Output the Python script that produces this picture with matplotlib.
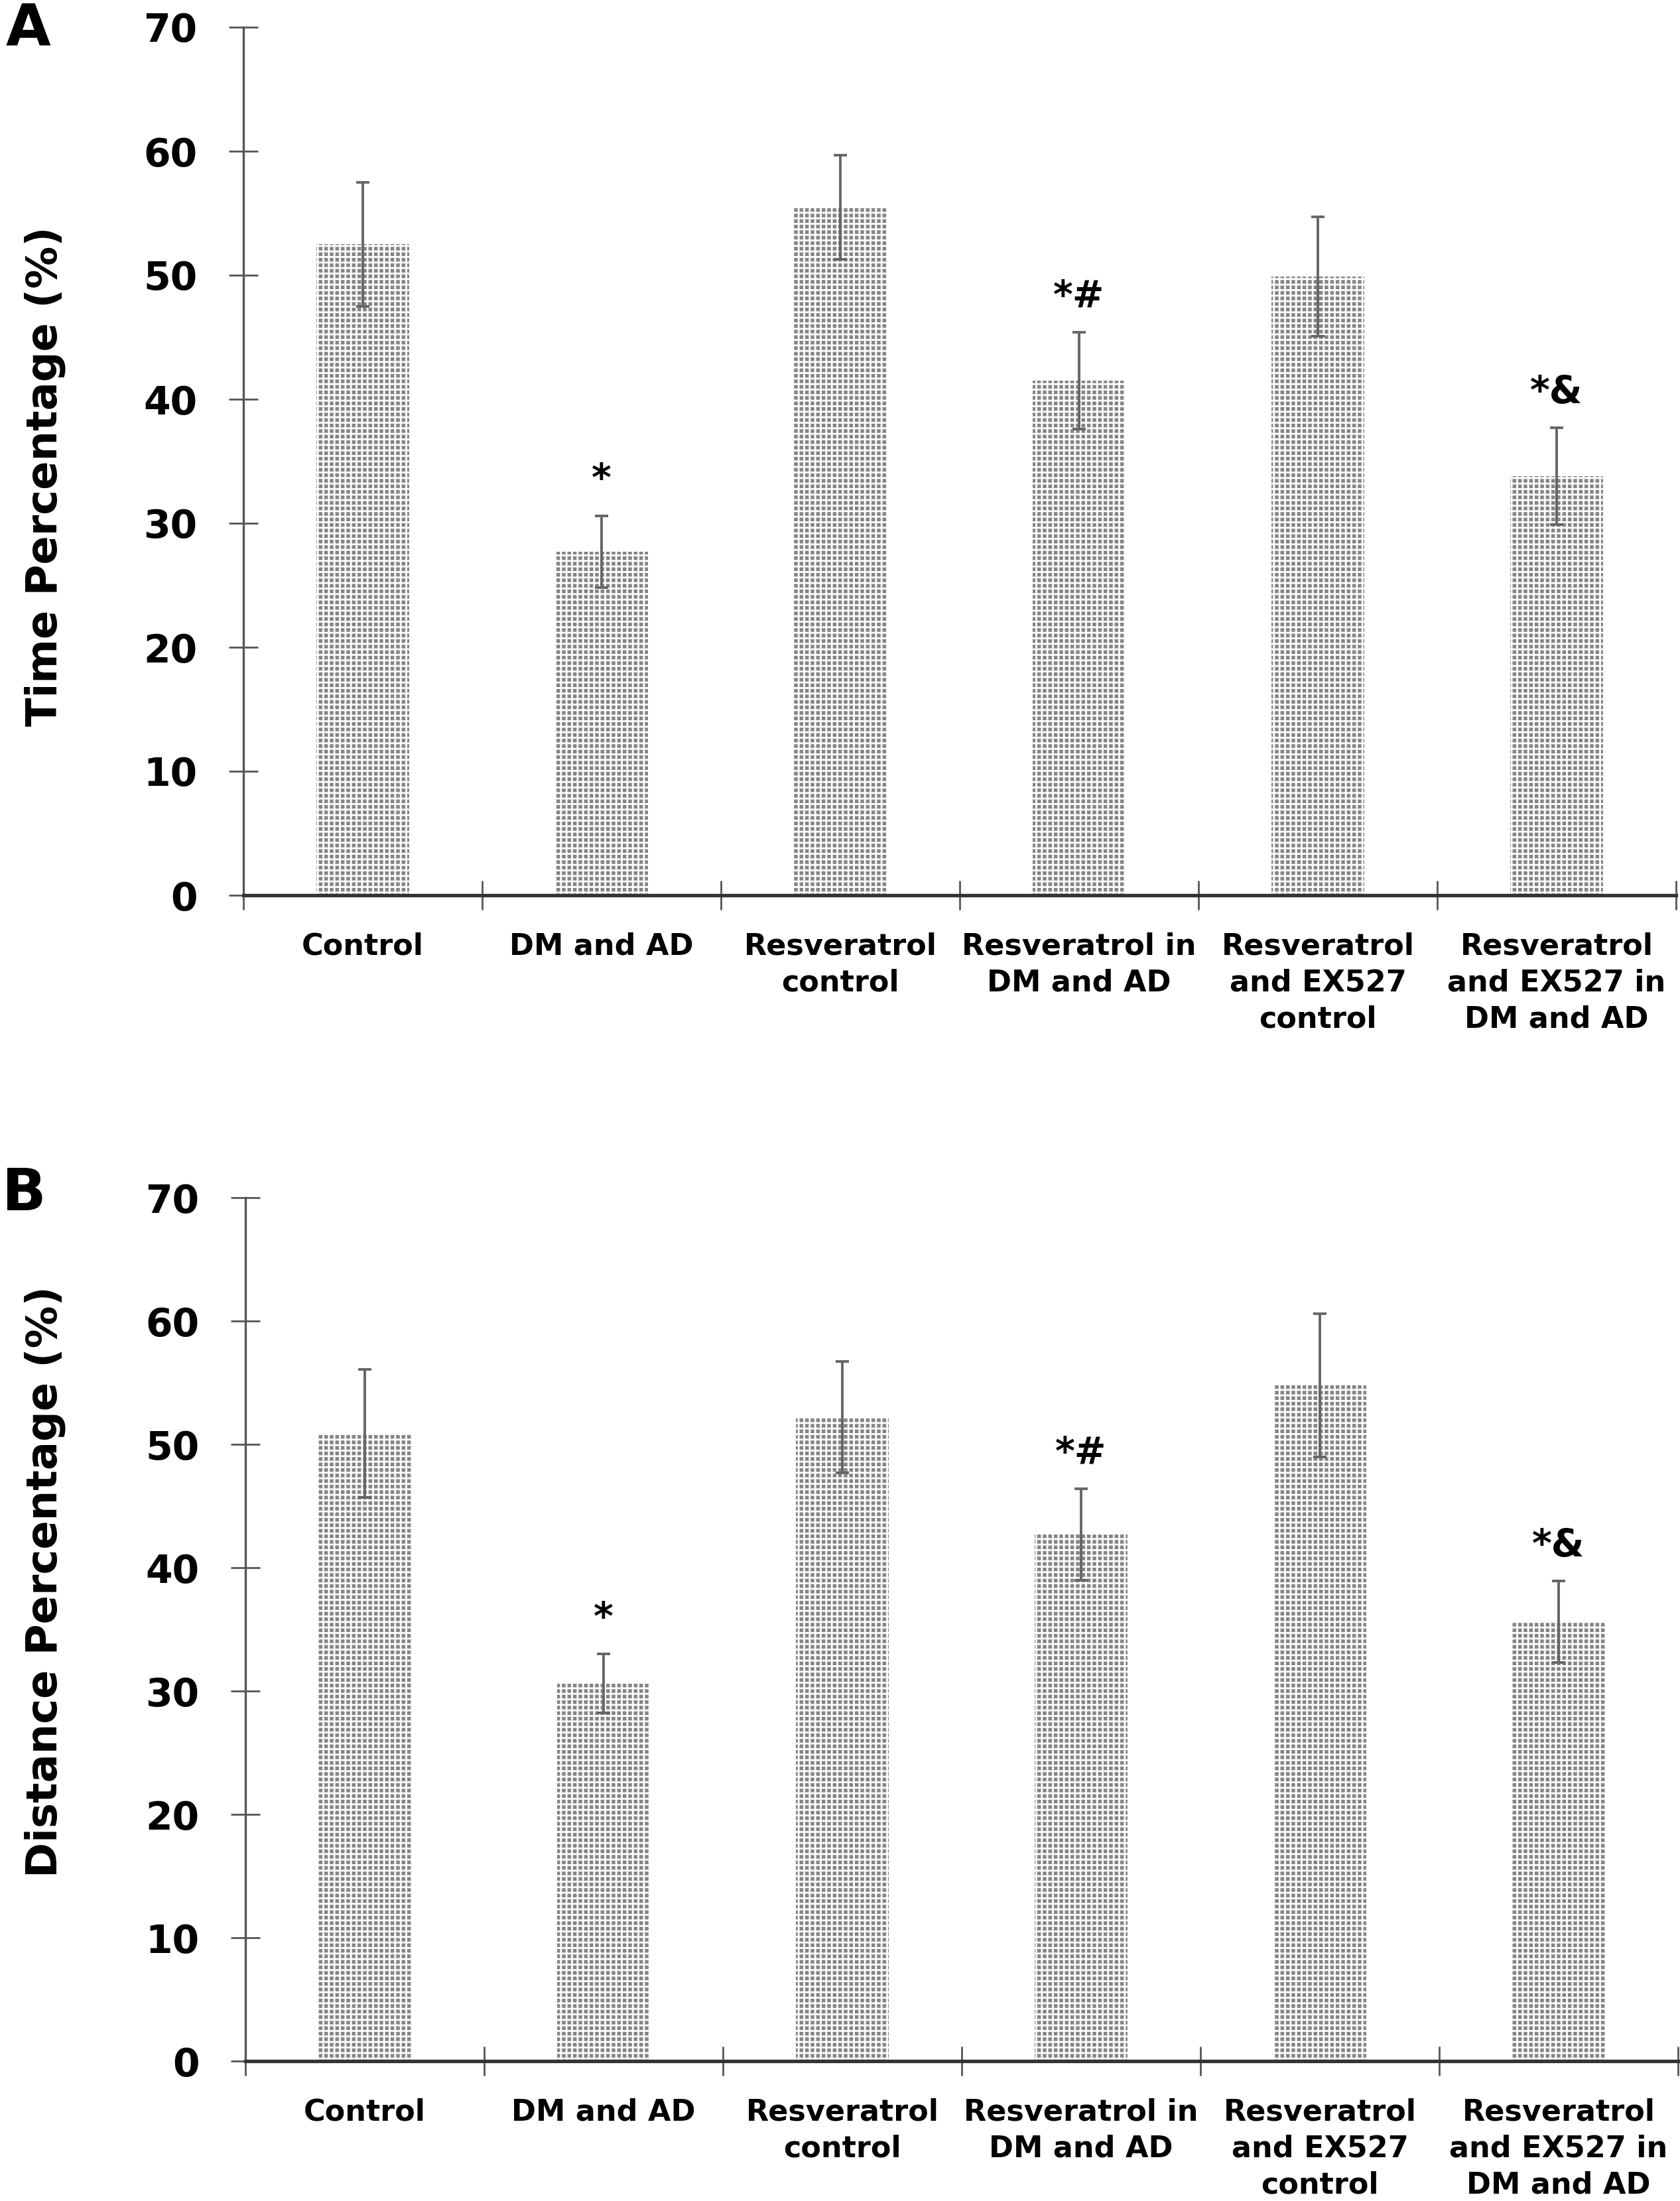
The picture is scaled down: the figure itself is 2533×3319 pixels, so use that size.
import matplotlib
matplotlib.use("Agg")
import matplotlib.pyplot as plt
import numpy as np

# group names (shared by both panels)
groups = ['Control', 'DM and AD', 'Resveratrol\ncontrol', 'Resveratrol in\nDM and AD',
          'Resveratrol\nand EX527\ncontrol', 'Resveratrol\nand EX527 in\nDM and AD']

# panel A - time percentage
time_mean = [52.5, 27.7, 55.5, 41.5, 49.9, 33.8]
time_err = [5.0, 2.9, 4.2, 3.9, 4.8, 3.9]

# panel B - distance percentage
dist_mean = [50.9, 30.6, 52.2, 42.7, 54.8, 35.6]
dist_err = [5.2, 2.4, 4.5, 3.7, 5.8, 3.3]

# significance marks
marks = ['', '*', '', '*#', '', '*&']

yticks = [0, 10, 20, 30, 40, 50, 60, 70]

plt.rcParams['font.family'] = ['DejaVu Sans']
plt.rcParams['font.weight'] = 'bold'
plt.rcParams['hatch.linewidth'] = 2.0

W, H = 2533, 3319
fig = plt.figure(figsize=(W / 100, H / 100), dpi=100)


def draw_panel(ax, means, errs):
    x = np.arange(len(groups)) + 0.5
    ax.bar(x, means, width=0.39, color='#858585', edgecolor='white',
           linewidth=0, hatch='++', zorder=2)
    ax.errorbar(x, means, yerr=errs, fmt='none', ecolor='#666666',
                elinewidth=2.8, capsize=7, capthick=2.8, zorder=3)

    # significance labels above error bars
    for xi, m, e, s in zip(x, means, errs, marks):
        if s:
            ax.text(xi, m + e + 2.0, s, ha='center', va='baseline',
                    fontsize=41, fontweight='bold', color='black')

    ax.set_xlim(0, len(groups))
    ax.set_ylim(0, 70)
    ax.set_yticks(yticks)
    ax.set_yticklabels([str(t) for t in yticks])

    # ticks between categories, labels at category centres
    ax.set_xticks(np.arange(len(groups) + 1))
    ax.set_xticklabels([])
    ax.set_xticks(x, minor=True)
    ax.set_xticklabels(groups, minor=True, fontsize=32, fontweight='bold',
                       linespacing=1.35)
    ax.tick_params(axis='x', which='minor', length=0, pad=40)
    ax.tick_params(axis='x', which='major', direction='inout', length=32,
                   width=2, color='#555555')
    ax.tick_params(axis='y', direction='inout', length=32, width=2,
                   color='#555555', labelsize=42, pad=34)
    for lab in ax.get_yticklabels():
        lab.set_fontweight('bold')

    ax.spines['top'].set_visible(False)
    ax.spines['right'].set_visible(False)
    ax.spines['left'].set_color('#555555')
    ax.spines['left'].set_linewidth(2.4)
    ax.spines['bottom'].set_color('#333333')
    ax.spines['bottom'].set_linewidth(3.8)
    ax.patch.set_alpha(0)


axA = fig.add_axes([367 / W, 1 - 1350 / H, 2160 / W, 1309 / H])
draw_panel(axA, time_mean, time_err)

axB = fig.add_axes([370 / W, 1 - 3108 / H, 2160 / W, 1302 / H])
draw_panel(axB, dist_mean, dist_err)

fig.text(68 / W, 1 - 718 / H, 'Time Percentage (%)', rotation=90,
         ha='center', va='center', fontsize=46, fontweight='bold')
fig.text(68 / W, 1 - 2385 / H, 'Distance Percentage (%)', rotation=90,
         ha='center', va='center', fontsize=46, fontweight='bold')

fig.text(42 / W, 1 - 45 / H, 'A', ha='center', va='center',
         fontsize=63, fontweight='bold')
fig.text(36 / W, 1 - 1801 / H, 'B', ha='center', va='center',
         fontsize=63, fontweight='bold')

fig.savefig('out.png', dpi=100, facecolor='white')
